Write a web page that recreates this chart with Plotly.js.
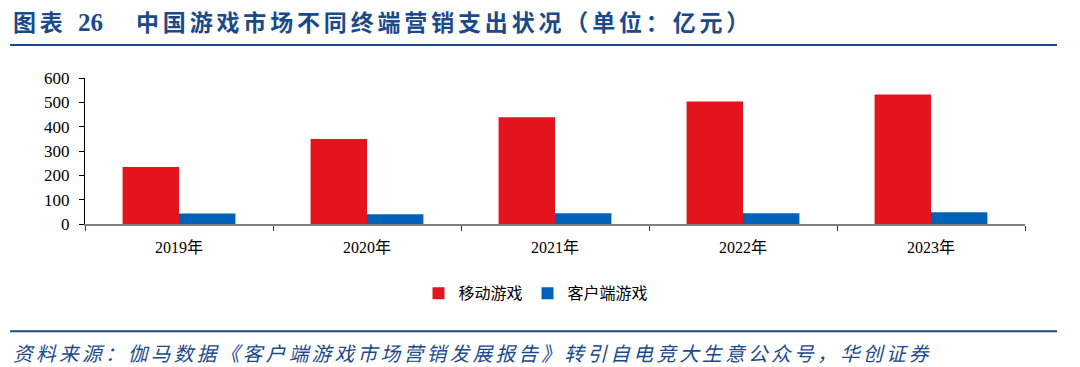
<!DOCTYPE html>
<html>
<head>
<meta charset="utf-8">
<script src="https://cdn.plot.ly/plotly-3.0.1.min.js"></script>
<style>html,body{margin:0;padding:0;background:#fff;}#chart{width:1080px;height:367px;}</style>
</head>
<body>
<div id="chart"></div>
<script>
const years = ["2019年", "2020年", "2021年", "2022年", "2023年"];
const mobile = [234, 349, 439, 503, 532];
const client = [43, 40, 44, 44, 48];
const seriesNames = ["移动游戏", "客户端游戏"];
const figLabel = "图表";
const figNumber = "26";
const titleText = "中国游戏市场不同终端营销支出状况（单位：亿元）";
const sourceText = "资料来源：伽马数据《客户端游戏市场营销发展报告》转引自电竞大生意公众号，华创证券";

const serif = "'Liberation Serif', 'Times New Roman', 'Noto Sans CJK SC', serif";
const cjk = "'Noto Sans CJK SC', sans-serif";
const navy = "#1B4A8A";

// plot area in pixels: x 85..1025, y 78..224.5
const PL = 85, PW = 940, PB = 224.5, PH = 146.5;
const px = v => (v - PL) / PW;
const py = v => (PB - v) / PH;
const spaced = s => s.split("").join("\u2006");

const traces = [
  {type: "bar", name: seriesNames[0], x: years, y: mobile, marker: {color: "#E3141D"}},
  {type: "bar", name: seriesNames[1], x: years, y: client, marker: {color: "#0061B7"}}
];

const layout = {
  width: 1080, height: 367,
  margin: {l: 85, r: 55, t: 78, b: 142.5, pad: 0},
  paper_bgcolor: "#fff", plot_bgcolor: "#fff",
  barmode: "group", bargap: 0.4, bargroupgap: 0,
  xaxis: {type: "category", showgrid: false, zeroline: false,
          showline: true, linecolor: "#7f7f7f", linewidth: 1.5,
          ticks: "outside", tickson: "boundaries", ticklen: 5, tickcolor: "#333", tickwidth: 1,
          ticklabelstandoff: 8,
          tickfont: {family: serif, size: 16, color: "#000"}},
  yaxis: {range: [0, 600], dtick: 100, showgrid: false, zeroline: false,
          showline: true, linecolor: "#000", linewidth: 1,
          ticks: "outside", ticklen: 5, tickcolor: "#000",
          ticklabelstandoff: 6,
          tickfont: {family: serif, size: 17, color: "#000"}},
  showlegend: true,
  legend: {orientation: "h", x: px(536), xanchor: "center", y: py(294), yanchor: "middle",
           font: {family: cjk, size: 16, color: "#000"}, itemwidth: 30, traceorder: "normal"},
  shapes: [
    {type: "line", xref: "paper", yref: "paper", x0: px(10), x1: px(1057),
     y0: py(45), y1: py(45), line: {color: navy, width: 2}},
    {type: "line", xref: "paper", yref: "paper", x0: px(10), x1: px(1057),
     y0: py(332), y1: py(332), line: {color: navy, width: 2}}
  ],
  annotations: [
    {text: "<b>" + spaced(figLabel) + "</b>", xref: "paper", yref: "paper",
     x: px(11), xanchor: "left", y: py(21), yanchor: "middle",
     showarrow: false, font: {family: cjk, size: 23, color: navy}},
    {text: "<b>" + figNumber + "</b>", xref: "paper", yref: "paper",
     x: px(76), xanchor: "left", y: py(22), yanchor: "middle",
     showarrow: false, font: {family: serif, size: 25, color: navy}},
    {text: "<b>" + spaced(titleText) + "</b>", xref: "paper", yref: "paper",
     x: px(134), xanchor: "left", y: py(21), yanchor: "middle",
     showarrow: false, font: {family: cjk, size: 23, color: navy}},
    {text: "<i>" + spaced(sourceText) + "</i>", xref: "paper", yref: "paper",
     x: px(11), xanchor: "left", y: py(353), yanchor: "middle",
     showarrow: false, font: {family: cjk, size: 19.7, color: navy}}
  ]
};

Plotly.newPlot("chart", traces, layout, {displayModeBar: false, staticPlot: true});
</script>
</body>
</html>
